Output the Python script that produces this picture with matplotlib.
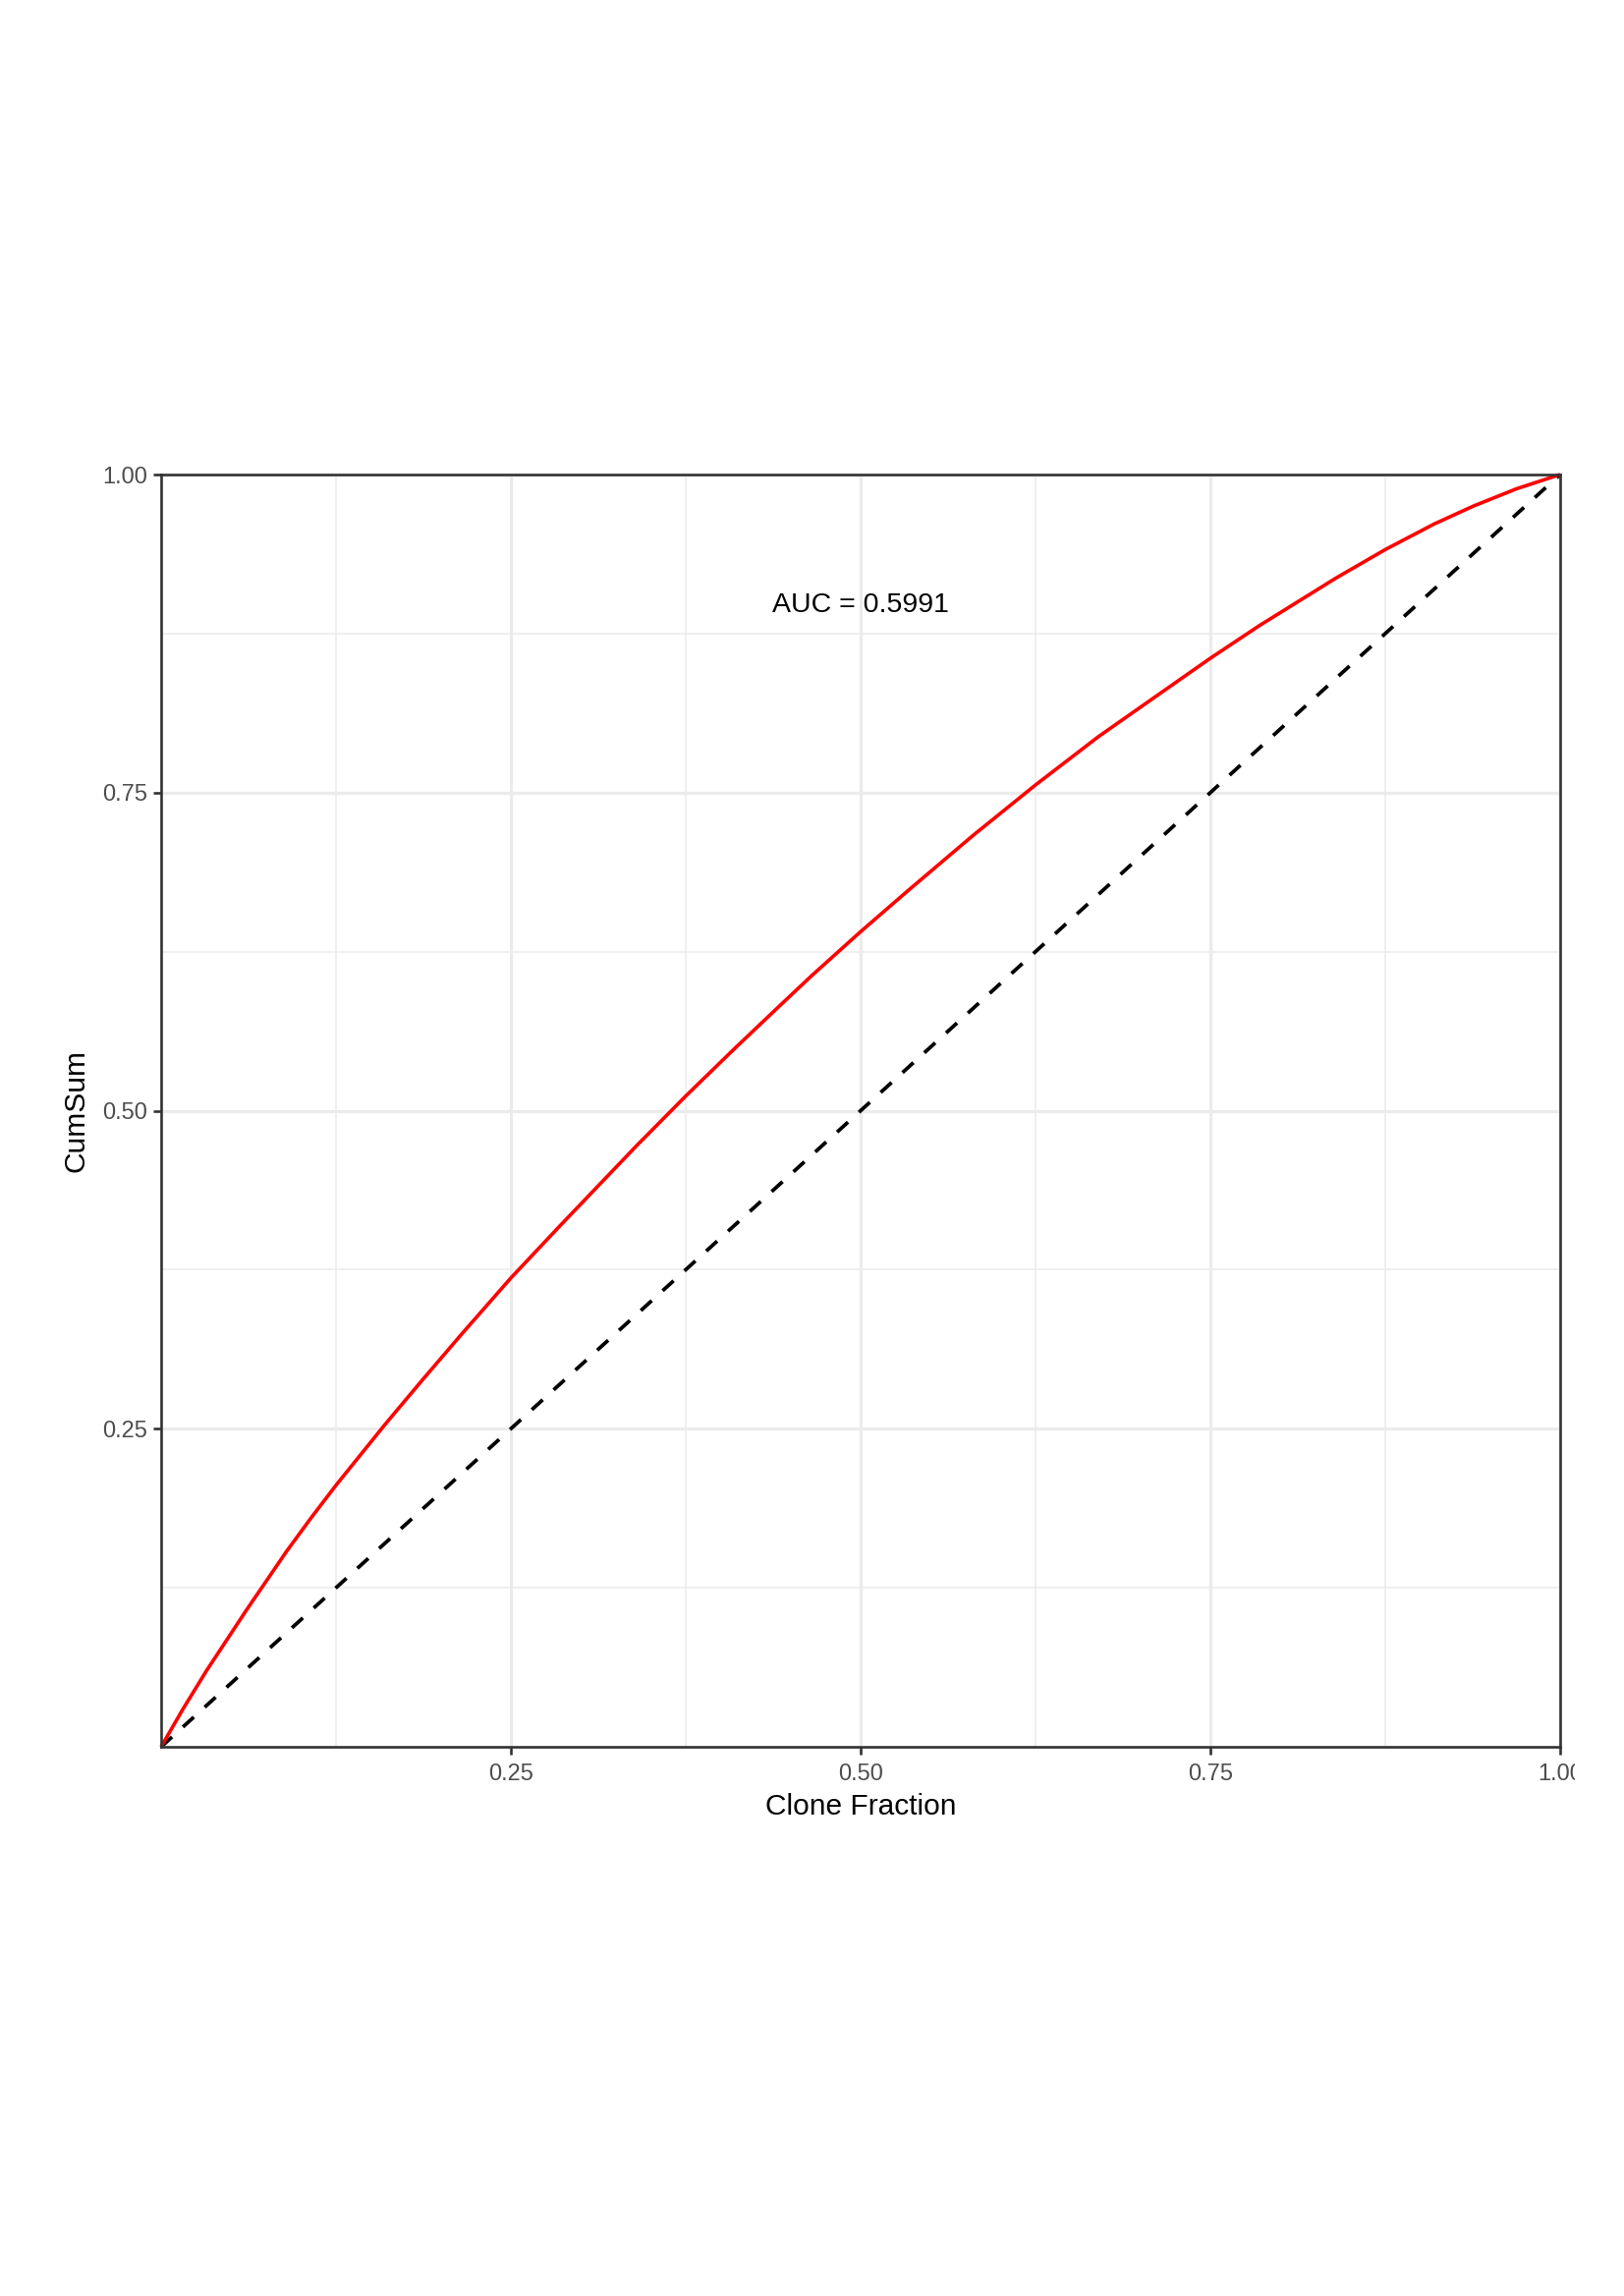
import matplotlib
matplotlib.use("Agg")
import matplotlib.pyplot as plt
from matplotlib.transforms import Bbox, TransformedBbox

plt.rcParams['font.family'] = ['Liberation Sans', 'DejaVu Sans']

# Data
clone_fraction = [0.0, 0.0154, 0.0323, 0.061, 0.0899, 0.1075, 0.125, 0.160, 0.1875,
                  0.2149, 0.25, 0.2851, 0.3399, 0.375, 0.4101, 0.44, 0.4649, 0.5,
                  0.5351, 0.58, 0.625, 0.67, 0.7149, 0.75, 0.7851, 0.8399, 0.875,
                  0.9101, 0.9382, 0.9691, 1.0]
cumsum = [0.0, 0.0293, 0.0596, 0.1075, 0.154, 0.1804, 0.2056, 0.2533, 0.2893,
          0.3245, 0.3685, 0.4095, 0.4725, 0.5115, 0.549, 0.5802, 0.606, 0.6407,
          0.6741, 0.716, 0.756, 0.794, 0.8286, 0.8556, 0.8813, 0.9187, 0.941,
          0.9612, 0.9753, 0.9889, 1.0]
diag_x = [0.0, 1.0]
diag_y = [0.0, 1.0]
x_ticks = [0.25, 0.50, 0.75, 1.00]
x_tick_labels = ["0.25", "0.50", "0.75", "1.00"]
y_ticks = [0.25, 0.50, 0.75, 1.00]
y_tick_labels = ["0.25", "0.50", "0.75", "1.00"]
minor_ticks = [0.125, 0.375, 0.625, 0.875]
auc_label = "AUC = 0.5991"

W, H = 1653, 2337
fig = plt.figure(figsize=(W / 100, H / 100), dpi=100)
fig.patch.set_facecolor("white")
left, right, top, bottom = 164, 1588, 483, 1778
ax = fig.add_axes([left / W, 1 - bottom / H, (right - left) / W, (bottom - top) / H])

ax.set_xlim(0, 1)
ax.set_ylim(0, 1)

# grid
for v in minor_ticks:
    ax.axvline(v, color="#EBEBEB", lw=1.1, zorder=0.5)
    ax.axhline(v, color="#EBEBEB", lw=1.1, zorder=0.5)
for v in x_ticks:
    ax.axvline(v, color="#EBEBEB", lw=2.3, zorder=0.6)
for v in y_ticks:
    ax.axhline(v, color="#EBEBEB", lw=2.3, zorder=0.6)

ax.plot(diag_x, diag_y, color="black", lw=2.7, linestyle=(0, (4, 4)),
        dash_capstyle="butt", zorder=2, clip_on=False)
ax.plot(clone_fraction, cumsum, color="#FF0000", lw=2.6, zorder=3,
        solid_capstyle="butt", solid_joinstyle="round", clip_on=False)

ax.text(0.5, 0.897, auc_label, ha="center", va="center", fontsize=20.5, color="black")

for s in ax.spines.values():
    s.set_color("#333333")
    s.set_linewidth(1.9)
    s.set_zorder(4)

ax.set_xticks(x_ticks)
ax.set_xticklabels(x_tick_labels)
ax.set_yticks(y_ticks)
ax.set_yticklabels(y_tick_labels)
ax.tick_params(axis="both", which="major", length=5.5, width=1.9, color="#333333",
               labelcolor="#4D4D4D", labelsize=17)
ax.tick_params(axis="x", pad=6.7)
ax.tick_params(axis="y", pad=4.5)

ax.set_xlabel("Clone Fraction", fontsize=21.5, color="black", labelpad=6)
ax.set_ylabel("CumSum", fontsize=21.5, color="black", labelpad=9)

clipbox = TransformedBbox(Bbox([[0, 0], [1603 / W, 1]]), fig.transFigure)
for tick in ax.xaxis.get_major_ticks():
    tick.label1.set_clip_box(clipbox)
    tick.label1.set_clip_on(True)

fig.savefig("out.png", dpi=100, facecolor="white")
